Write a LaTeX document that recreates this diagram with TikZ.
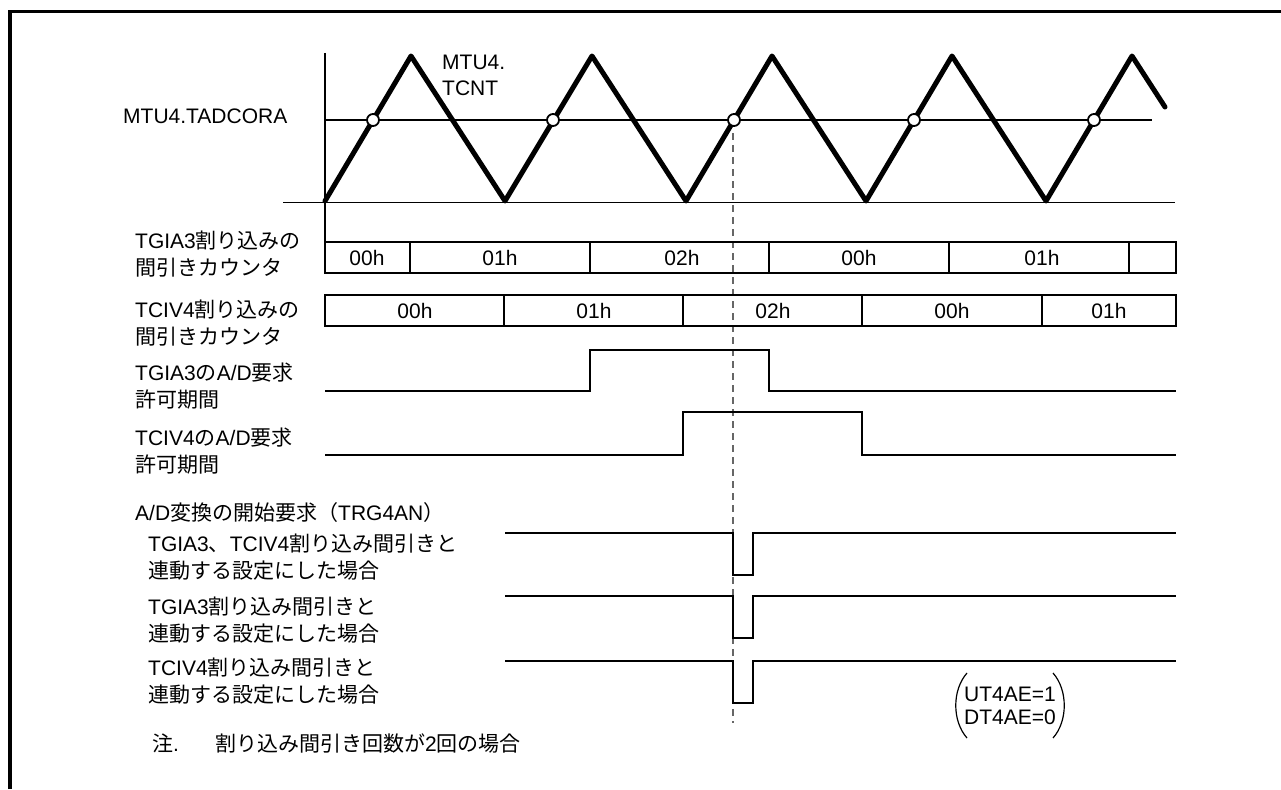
\documentclass[tikz,border=0pt]{standalone}
\usepackage{fontspec}
\setmainfont{Liberation Sans}
\newfontfamily\jp{Noto Sans CJK JP}
\newcommand{\J}[1]{{\jp #1}}
\tikzset{
  frame/.style={line width=3.3pt},
  wave/.style={line width=5pt, line join=round, line cap=round},
  thinl/.style={line width=1.3pt},
  sig/.style={line width=2.6pt, line join=miter},
  boxl/.style={line width=2.2pt},
  mark0/.style={circle, draw, fill=white, line width=1.8pt, minimum size=12pt, inner sep=0pt},
  lbl/.style={font=\fontsize{21}{27}\selectfont, inner sep=0pt, anchor=west, align=left},
  val/.style={font=\fontsize{21}{25}\selectfont, inner sep=0pt},
  guide/.style={line width=1.4pt, gray!80!black, dash pattern=on 7pt off 5pt}
}
\begin{document}
\begin{tikzpicture}[x=1pt,y=-1pt]
\useasboundingbox (0,0) rectangle (1281,789);
% frame
\draw[frame] (10,789) -- (10,11.7) -- (1281,11.7);

% axes
\draw[thinl] (325,53) -- (325,242);
\draw[thinl] (283,202.5) -- (1175,202.5);
\draw[thinl] (325,120) -- (1152,120);

% triangle wave
\draw[wave] (325,201) -- (411,56) -- (505,201) -- (592,56) -- (686,201) -- (772,56)
  -- (866,201) -- (952,56) -- (1046,201) -- (1132,56) -- (1165,107);

% guide line
\draw[guide] (733,133) -- (733,723);

% compare markers
\foreach \n/\x in {m1/373,m2/553,m3/734,m4/914,m5/1094}{
  \node[mark0] (\n) at (\x,120) {};
}

% labels top
\node[lbl] (tadcora) at (123,116) {MTU4.TADCORA};
\node[lbl, font=\fontsize{21}{26}\selectfont] (tcnt) at (442,75) {MTU4.\\TCNT};

% TGIA3 counter
\node[lbl] (l1) at (135,254) {TGIA3\J{割り込みの}\\\J{間引きカウンタ}};
\draw[boxl] (325,242) rectangle (1176,273);
\foreach \x in {410,590,769,949,1129}{\draw[boxl] (\x,242) -- (\x,273);}
\node[val] (a1) at (367,258) {00h};
\node[val] (a2) at (500,258) {01h};
\node[val] (a3) at (682,258) {02h};
\node[val] (a4) at (859,258) {00h};
\node[val] (a5) at (1042,258) {01h};

% TCIV4 counter
\node[lbl] (l2) at (135,323) {TCIV4\J{割り込みの}\\\J{間引きカウンタ}};
\draw[boxl] (325,295) rectangle (1176,326);
\foreach \x in {504,683,862,1042}{\draw[boxl] (\x,295) -- (\x,326);}
\node[val] (b1) at (415,311) {00h};
\node[val] (b2) at (594,311) {01h};
\node[val] (b3) at (773,311) {02h};
\node[val] (b4) at (952,311) {00h};
\node[val] (b5) at (1109,311) {01h};

% A/D permit periods
\node[lbl] (l3) at (135,386) {TGIA3\J{の}A/D\J{要求}\\\J{許可期間}};
\draw[sig] (325,391) -- (590,391) -- (590,350) -- (769,350) -- (769,391) -- (1176,391);
\node[lbl] (l4) at (135,451) {TCIV4\J{の}A/D\J{要求}\\\J{許可期間}};
\draw[sig] (325,455) -- (683,455) -- (683,412) -- (862,412) -- (862,455) -- (1176,455);

% A/D start requests
\node[lbl] (l5) at (135,513) {A/D\J{変換の開始要求（}TRG4AN\J{）}};
\node[lbl] (l6) at (148,557) {TGIA3\J{、}TCIV4\J{割り込み間引きと}\\\J{連動する設定にした場合}};
\draw[sig] (505,533) -- (733,533) -- (733,575) -- (753,575) -- (753,533) -- (1176,533);
\node[lbl] (l7) at (148,620) {TGIA3\J{割り込み間引きと}\\\J{連動する設定にした場合}};
\draw[sig] (505,596) -- (733,596) -- (733,638) -- (753,638) -- (753,596) -- (1176,596);
\node[lbl] (l8) at (148,681) {TCIV4\J{割り込み間引きと}\\\J{連動する設定にした場合}};
\draw[sig] (505,661) -- (733,661) -- (733,703) -- (753,703) -- (753,661) -- (1176,661);

% note
\node[lbl] (note) at (152,743) {\J{注}.\hspace{36pt}\J{割り込み間引き回数が}2\J{回の場合}};

% setting bracket
\node[lbl, font=\fontsize{21}{23}\selectfont] (cfg) at (964,706) {UT4AE=1\\DT4AE=0};
\draw[line width=1.2pt] (967,673) .. controls (952,690) and (952,721) .. (967,738);
\draw[line width=1.2pt] (1053,673) .. controls (1068,690) and (1068,721) .. (1053,738);
\end{tikzpicture}
\end{document}
